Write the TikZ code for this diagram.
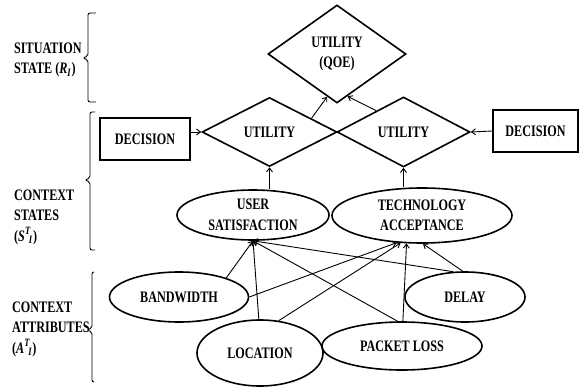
\documentclass[tikz,border=0pt]{standalone}
\usepackage{fontspec}
\setmainfont{Liberation Serif}[FakeStretch=0.76]
\usetikzlibrary{arrows.meta,shapes.geometric}
\tikzset{
 qoe/.style={font=\fontsize{16}{20.5}\selectfont\bfseries,line join=miter},
 state/.style={ellipse,draw,line width=1.6pt,inner sep=0pt,align=center},
 util/.style={diamond,draw,line width=1.6pt,inner sep=0pt,align=center},
 decbox/.style={rectangle,draw,line width=1.6pt,inner sep=0pt,minimum height=42pt},
 link/.style={draw,line width=.9pt,-{Straight Barb[length=4pt,width=6pt]}},
 layer/.style={align=left,anchor=west,inner sep=0pt},
 bracket/.style={draw,line width=.9pt,rounded corners=2pt}
}
% side bracket: x, top, tip, bottom, hook length
\newcommand{\layerBrace}[5]{%
 \draw[bracket] (#1+#5,#2) -- (#1,#2) -- (#1,#3-2) -- (#1-5,#3) -- (#1,#3+2) -- (#1,#4) -- (#1+#5,#4);}

\begin{document}
\begin{tikzpicture}[qoe,x=1pt,y=-1pt]
 \useasboundingbox (0,0) rectangle (585,388);
 % layers
 \node[layer] (sit) at (14,60) {SITUATION\\STATE (\textit{R}\textsubscript{\textit{I}})};
 \node[layer] (ctxs) at (14,217) {CONTEXT\\STATES\\(\textit{S}\textsuperscript{\textit{T}}\kern-2pt\textsubscript{\textit{I}})};
 \node[layer] (ctxa) at (12,329) {CONTEXT\\ATTRIBUTES\\(\textit{A}\textsuperscript{\textit{T}}\kern-2pt\textsubscript{\textit{I}})};
 \layerBrace{88}{13}{58}{102}{8}
 \layerBrace{90}{112}{180}{250}{5}
 \layerBrace{92}{272}{330}{382}{2}
 % utilities and decisions
 \node[util,minimum width=138pt,minimum height=98pt] (utilTop) at (337,54) {UTILITY\\(QOE)};
 \node[util,minimum width=135pt,minimum height=69pt] (utilL) at (269.5,132) {UTILITY};
 \node[util,minimum width=133pt,minimum height=70pt] (utilR) at (403.5,132) {UTILITY};
 \node[decbox,minimum width=90pt] (decL) at (145,139) {DECISION};
 \node[decbox,minimum width=85pt] (decR) at (535.5,131) {DECISION};
 % context states
 \node[state,minimum width=152pt,minimum height=50pt] (usat) at (253,215) {USER\\SATISFACTION};
 \node[state,minimum width=180pt,minimum height=55pt] (tacc) at (422,215.5) {TECHNOLOGY\\ACCEPTANCE};
 % context attributes
 \node[state,minimum width=139pt,minimum height=50pt] (bw) at (179,297) {BANDWIDTH};
 \node[state,minimum width=120pt,minimum height=50pt] (delay) at (465,297) {DELAY};
 \node[state,minimum width=126pt,minimum height=66pt] (loc) at (260,353) {LOCATION};
 \node[state,minimum width=160pt,minimum height=48pt] (ploss) at (402,346) {PACKET LOSS};
 % arrows
 \draw[link] (decL.east |- utilL.west) -- (utilL.west);
 \draw[link] (decR.west) -- (utilR.east);
 \draw[link] (utilL.south |- usat.north) -- (utilL.south);
 \draw[link] (utilR.south |- tacc.north) -- (utilR.south);
 \draw[link] (utilL.18) -- (utilTop.-103);
 \draw[link] (utilR.142) -- (utilTop.-76);
 \draw[link] (bw.22) -- (usat.south);
 \draw[link] (bw.east) -- (tacc.-133);
 \draw[link] (loc.92) -- (usat.south);
 \draw[link] (loc.60) -- (tacc.-128);
 \draw[link] (ploss.100) -- (usat.south);
 \draw[link] (ploss.88) -- (tacc.-119);
 \draw[link] (delay.115) -- (usat.south);
 \draw[link] (delay.95) -- (tacc.-88);
\end{tikzpicture}
\end{document}
